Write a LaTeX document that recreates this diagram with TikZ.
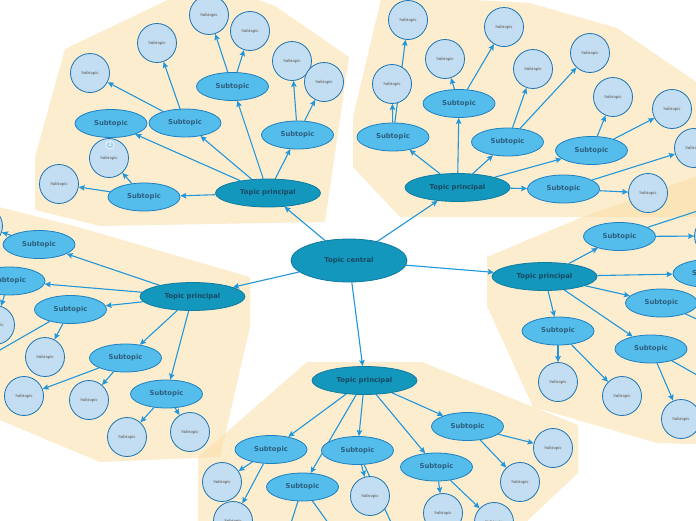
\documentclass[tikz,border=0pt]{standalone}
\usepackage{fontspec}
\setmainfont{DejaVu Sans}
\newfontfamily\leaffont{Liberation Serif}
\usetikzlibrary{arrows.meta,shapes.geometric}
\definecolor{peach}{RGB}{251,221,161}
\definecolor{topicfill}{RGB}{20,151,188}
\definecolor{topicline}{RGB}{15,124,160}
\definecolor{topictext}{RGB}{25,72,98}
\definecolor{subfill}{RGB}{84,189,236}
\definecolor{subline}{RGB}{30,128,190}
\definecolor{subtext}{RGB}{45,95,125}
\definecolor{leaffill}{RGB}{195,222,242}
\definecolor{leafline}{RGB}{28,115,178}
\definecolor{leaftext}{RGB}{120,120,120}
\definecolor{arrowc}{RGB}{33,150,218}
\definecolor{badgefill}{RGB}{160,208,240}
\pgfdeclarelayer{bg}
\pgfdeclarelayer{edges}
\pgfsetlayers{bg,edges,main}
\tikzset{
  topic/.style={ellipse, fill=topicfill, draw=topicline, line width=0.8pt,
    minimum width=105pt, minimum height=28pt, inner sep=0pt,
    font=\fontsize{6.8}{7}\selectfont\bfseries, text=topictext},
  central/.style={topic, minimum width=116pt, minimum height=43pt},
  sub/.style={ellipse, fill=subfill, draw=subline, line width=0.8pt,
    minimum width=72pt, minimum height=28pt, inner sep=0pt,
    font=\fontsize{6.8}{7}\selectfont\bfseries, text=subtext},
  leaf/.style={circle, fill=leaffill, draw=leafline, line width=0.8pt,
    minimum size=39pt, inner sep=0pt,
    font=\leaffont\fontsize{4.6}{5}\selectfont\bfseries, text=leaftext},
  link/.style={draw=arrowc, line width=1.1pt,
    -{Stealth[length=6pt,width=5.5pt,inset=1pt,fill=arrowc]}},
  zone/.style={fill=peach, opacity=0.5},
  badge/.style={circle, fill=badgefill, draw=white, line width=0.6pt,
    minimum size=8pt, inner sep=0pt, text=white,
    font=\fontsize{5}{5}\selectfont\bfseries}
}
\begin{document}
\begin{tikzpicture}[x=1pt,y=-1pt]
\clip (0,0) rectangle (696,520);
\begin{pgfonlayer}{bg}
\fill[white] (0,0) rectangle (696,520);
\fill[zone] (35,157) -- (65,49) -- (178,-5) -- (245,-5) -- (275,6) -- (349,57)
  -- (325,222) -- (100,226) -- (35,210) -- cycle;
\fill[zone] (382,-5) -- (530,3) -- (617,28) -- (720,98) -- (720,217)
  -- (400,217) -- (353,167) -- (353,117) -- cycle;
\fill[zone] (487,257) -- (580,218) -- (720,168) -- (720,445) -- (657,443)
  -- (533,407) -- (487,306) -- cycle;
\fill[zone] (307,362) -- (422,362) -- (578,425) -- (578,473) -- (523,525)
  -- (198,525) -- (198,457) -- cycle;
\fill[zone] (-5,206) -- (78,227) -- (250,277) -- (250,327) -- (220,457)
  -- (100,462) -- (-5,418) -- cycle;
\end{pgfonlayer}

% central
\node[central] (c) at (349,260.5) {Topic central};

% top-left cluster
\node[topic] (tl) at (268,193) {Topic principal};
\node[sub] (tlA) at (144,197) {Subtopic};
\node[sub] (tlB) at (111,123.5) {Subtopic};
\node[sub] (tlC) at (185,123) {Subtopic};
\node[sub] (tlD) at (232.5,86.5) {Subtopic};
\node[sub] (tlE) at (297.5,135) {Subtopic};
\node[leaf] (tl1) at (59,184) {Subtopic};
\node[leaf] (tl2) at (109,158) {Subtopic};
\node[leaf] (tl3) at (90,73) {Subtopic};
\node[leaf] (tl4) at (157,43) {Subtopic};
\node[leaf] (tl5) at (209,15) {Subtopic};
\node[leaf] (tl6) at (250,31) {Subtopic};
\node[leaf] (tl7) at (292,61) {Subtopic};
\node[leaf] (tl8) at (324,82) {Subtopic};
\node[badge] (tlbadge) at (110,145) {2};

% top-right cluster
\node[topic] (tr) at (457.5,187.5) {Topic principal};
\node[sub] (trF) at (393,137) {Subtopic};
\node[sub] (trG) at (459,103.5) {Subtopic};
\node[sub] (trH) at (507.5,142) {Subtopic};
\node[sub] (trI) at (591.5,150.5) {Subtopic};
\node[sub] (trJ) at (563.5,189) {Subtopic};
\node[leaf] (tr1) at (408,20) {Subtopic};
\node[leaf] (tr2) at (392,84) {Subtopic};
\node[leaf] (tr3) at (445,59) {Subtopic};
\node[leaf] (tr4) at (504,27) {Subtopic};
\node[leaf] (tr5) at (533,69) {Subtopic};
\node[leaf] (tr6) at (590,53) {Subtopic};
\node[leaf] (tr7) at (613,97) {Subtopic};
\node[leaf] (tr8) at (672,109) {Subtopic};
\node[leaf] (tr9) at (694,148) {Subtopic};
\node[leaf] (tr10) at (648,193) {Subtopic};

% right cluster
\node[topic] (rt) at (544.5,276.5) {Topic principal};
\node[sub] (rK) at (619.5,236.5) {Subtopic};
\node[sub] (rL) at (709,273.5) {Subtopic};
\node[sub] (rM) at (661.5,303) {Subtopic};
\node[sub] (rN) at (651,349) {Subtopic};
\node[sub] (rO) at (558,331) {Subtopic};
\node[leaf] (r1) at (558,382) {Subtopic};
\node[leaf] (r2) at (622,396) {Subtopic};
\node[leaf] (r3) at (681,419) {Subtopic};
\node[leaf] (r4) at (714,236) {Subtopic};
\coordinate (rk2) at (722,203);
\coordinate (rm2) at (712,326);
\coordinate (rn2) at (720,388);

% bottom cluster
\node[topic] (bt) at (364.5,380.5) {Topic principal};
\node[sub] (bP) at (467.5,426.5) {Subtopic};
\node[sub] (bQ) at (271,449.5) {Subtopic};
\node[sub] (bR) at (357.5,450.5) {Subtopic};
\node[sub] (bS) at (436.5,467) {Subtopic};
\node[sub] (bT) at (302.5,487) {Subtopic};
\node[leaf] (b1) at (222,482) {Subtopic};
\node[leaf] (b2) at (233,521) {Subtopic};
\node[leaf] (b3) at (370,496) {Subtopic};
\node[leaf] (b4) at (443,513) {Subtopic};
\node[leaf] (b5) at (494,522) {Subtopic};
\node[leaf] (b6) at (520,482) {Subtopic};
\node[leaf] (b7) at (553,448) {Subtopic};
\coordinate (bt1) at (284,545);
\coordinate (bt2) at (344,545);
\coordinate (br2) at (397,535);

% left cluster
\node[topic] (lt) at (192.5,296.5) {Topic principal};
\node[sub] (lU) at (39,244.5) {Subtopic};
\node[sub] (lV) at (9,281) {Subtopic};
\node[sub] (lW) at (70.5,309.5) {Subtopic};
\node[sub] (lX) at (125.5,358) {Subtopic};
\node[sub] (lY) at (166.5,394) {Subtopic};
\node[leaf] (l1) at (45,357) {Subtopic};
\node[leaf] (l2) at (24,396) {Subtopic};
\node[leaf] (l3) at (89,400) {Subtopic};
\node[leaf] (l4) at (127,437) {Subtopic};
\node[leaf] (l5) at (190,432) {Subtopic};
\node[leaf] (l6) at (-5,325) {Subtopic};
\node[leaf] (l7) at (-17,226) {Subtopic};
\coordinate (lw2) at (-28,366);

\begin{pgfonlayer}{edges}
\foreach \t in {tl,tr,rt,bt,lt} \draw[link] (c) -- (\t);
\foreach \s in {tlA,tlB,tlC,tlD,tlE} \draw[link] (tl) -- (\s);
\foreach \a/\b in {tlA/tl1,tlA/tl2,tlC/tl3,tlC/tl4,tlD/tl5,tlD/tl6,tlE/tl7,tlE/tl8}
  \draw[link] (\a) -- (\b);
\foreach \s in {trF,trG,trH,trI,trJ} \draw[link] (tr) -- (\s);
\foreach \a/\b in {trF/tr2,trF/tr1,trG/tr3,trG/tr4,trH/tr5,trH/tr6,trI/tr7,trI/tr8,trJ/tr9,trJ/tr10}
  \draw[link] (\a) -- (\b);
\foreach \s in {rK,rL,rM,rN,rO} \draw[link] (rt) -- (\s);
\foreach \a/\b in {rK/r4,rK/rk2,rM/rm2,rN/r3,rN/rn2,rO/r1,rO/r2}
  \draw[link] (\a) -- (\b);
\foreach \s in {bQ,bT,bR,bS,bP} \draw[link] (bt) -- (\s);
\foreach \a/\b in {bQ/b1,bQ/b2,bR/b3,bR/br2,bS/b4,bS/b5,bP/b6,bP/b7,bT/bt1,bT/bt2}
  \draw[link] (\a) -- (\b);
\foreach \s in {lU,lV,lW,lX,lY} \draw[link] (lt) -- (\s);
\foreach \a/\b in {lU/l7,lV/l6,lW/l1,lW/lw2,lX/l2,lX/l3,lY/l4,lY/l5}
  \draw[link] (\a) -- (\b);
\end{pgfonlayer}
\end{tikzpicture}
\end{document}
